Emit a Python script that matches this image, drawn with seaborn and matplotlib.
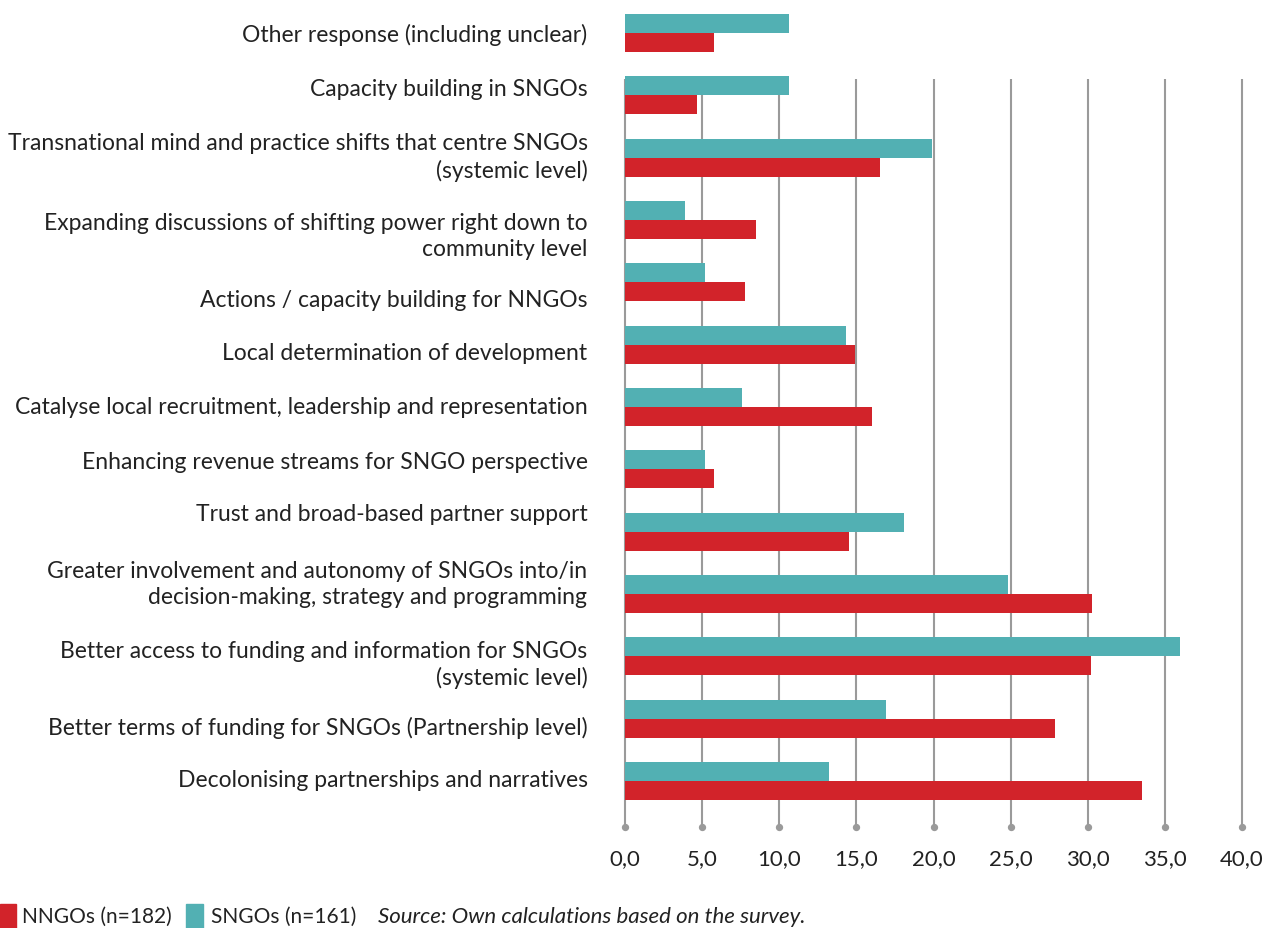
import pandas as pd
import numpy as np
import matplotlib
matplotlib.use("Agg")
import matplotlib.pyplot as plt
import matplotlib.transforms as mtransforms
import seaborn as sns
from matplotlib.ticker import FuncFormatter
from matplotlib.patches import Rectangle

# Данные (в процентах)
categories = [
    "Other response (including unclear)",
    "Capacity building in SNGOs",
    "Transnational mind and practice shifts that centre SNGOs\n(systemic level)",
    "Expanding discussions of shifting power right down to\ncommunity level",
    "Actions / capacity building for NNGOs",
    "Local determination of development",
    "Catalyse local recruitment, leadership and representation",
    "Enhancing revenue streams for SNGO perspective",
    "Trust and broad-based partner support",
    "Greater involvement and autonomy of SNGOs into/in\ndecision-making, strategy and programming",
    "Better access to funding and information for SNGOs\n(systemic level)",
    "Better terms of funding for SNGOs (Partnership level)",
    "Decolonising partnerships and narratives",
]
sngo_values = [10.6, 10.6, 19.9, 3.9, 5.2, 14.3, 7.6, 5.2, 18.1, 24.8, 36.0, 16.9, 13.2]
nngo_values = [5.8, 4.7, 16.5, 8.5, 7.8, 14.9, 16.0, 5.8, 14.5, 30.3, 30.2, 27.9, 33.5]
x_ticks = [0, 5, 10, 15, 20, 25, 30, 35, 40]

# сдвиг подписей по вертикали (пиксели, + вниз), как в исходной вёрстке
label_shift = [-1, -9, -6, 11, 15, 6, -2, -10, -20, -15, 3, 6, -3]

sngo_label = "SNGOs (n=161)"
nngo_label = "NNGOs (n=182)"
teal = "#52B0B3"
red = "#D2232A"

df = pd.DataFrame({
    "Category": categories * 2,
    "Value": sngo_values + nngo_values,
    "Group": [sngo_label] * len(categories) + [nngo_label] * len(categories),
})

sns.set_theme(style="white")
plt.rcParams["font.family"] = ["Lato", "DejaVu Sans"]

fig = plt.figure(figsize=(12.66, 9.29), dpi=100)
ax = fig.add_axes([625 / 1266, 1 - 813 / 929, 617 / 1266, 810 / 929])

# Сетка с точками внизу
y_top, y_bot = 0.74, 12.74
ax.vlines(x_ticks, y_top, y_bot, colors="#9a9a9a", linewidth=1.5, zorder=0, clip_on=False)
ax.scatter(x_ticks, [y_bot] * len(x_ticks), s=18, color="#9a9a9a", zorder=0, clip_on=False)

sns.barplot(data=df, y="Category", x="Value", hue="Group",
            hue_order=[sngo_label, nngo_label], palette=[teal, red],
            orient="h", width=0.61, saturation=1, linewidth=0,
            ax=ax, legend=False, zorder=2)

ax.set_xlim(0, 40)
ax.set_ylim(12.5, -0.5)
ax.set_xticks(x_ticks)
ax.xaxis.set_major_formatter(FuncFormatter(lambda v, p: f"{v:.1f}".replace(".", ",")))
ax.set_xlabel("")
ax.set_ylabel("")
ax.tick_params(axis="x", length=0, pad=26, labelsize=16, colors="#222222")
ax.tick_params(axis="y", length=0, pad=27, labelsize=16.5, colors="#222222")
for lbl, dy in zip(ax.get_yticklabels(), label_shift):
    lbl.set_horizontalalignment("right")
    lbl.set_multialignment("right")
    lbl.set_linespacing(1.3)
    lbl.set_transform(lbl.get_transform() +
                      mtransforms.ScaledTranslation(0, -dy / 100, fig.dpi_scale_trans))
for s in ax.spines.values():
    s.set_visible(False)
ax.grid(False)

# Легенда и источник
fig.patches.append(Rectangle((0 / 1266, 0), 16 / 1266, 24 / 929,
                             transform=fig.transFigure, color=red))
fig.text(22 / 1266, 1 - 917 / 929, nngo_label, fontsize=15, va="center", color="#222222")
fig.patches.append(Rectangle((186 / 1266, 0), 17 / 1266, 24 / 929,
                             transform=fig.transFigure, color=teal))
fig.text(211 / 1266, 1 - 917 / 929, sngo_label, fontsize=15, va="center", color="#222222")
fig.text(378 / 1266, 1 - 917 / 929, "Source: Own calculations based on the survey.",
         fontsize=16, va="center", style="italic", color="#222222")

plt.savefig("out.png", dpi=100)
